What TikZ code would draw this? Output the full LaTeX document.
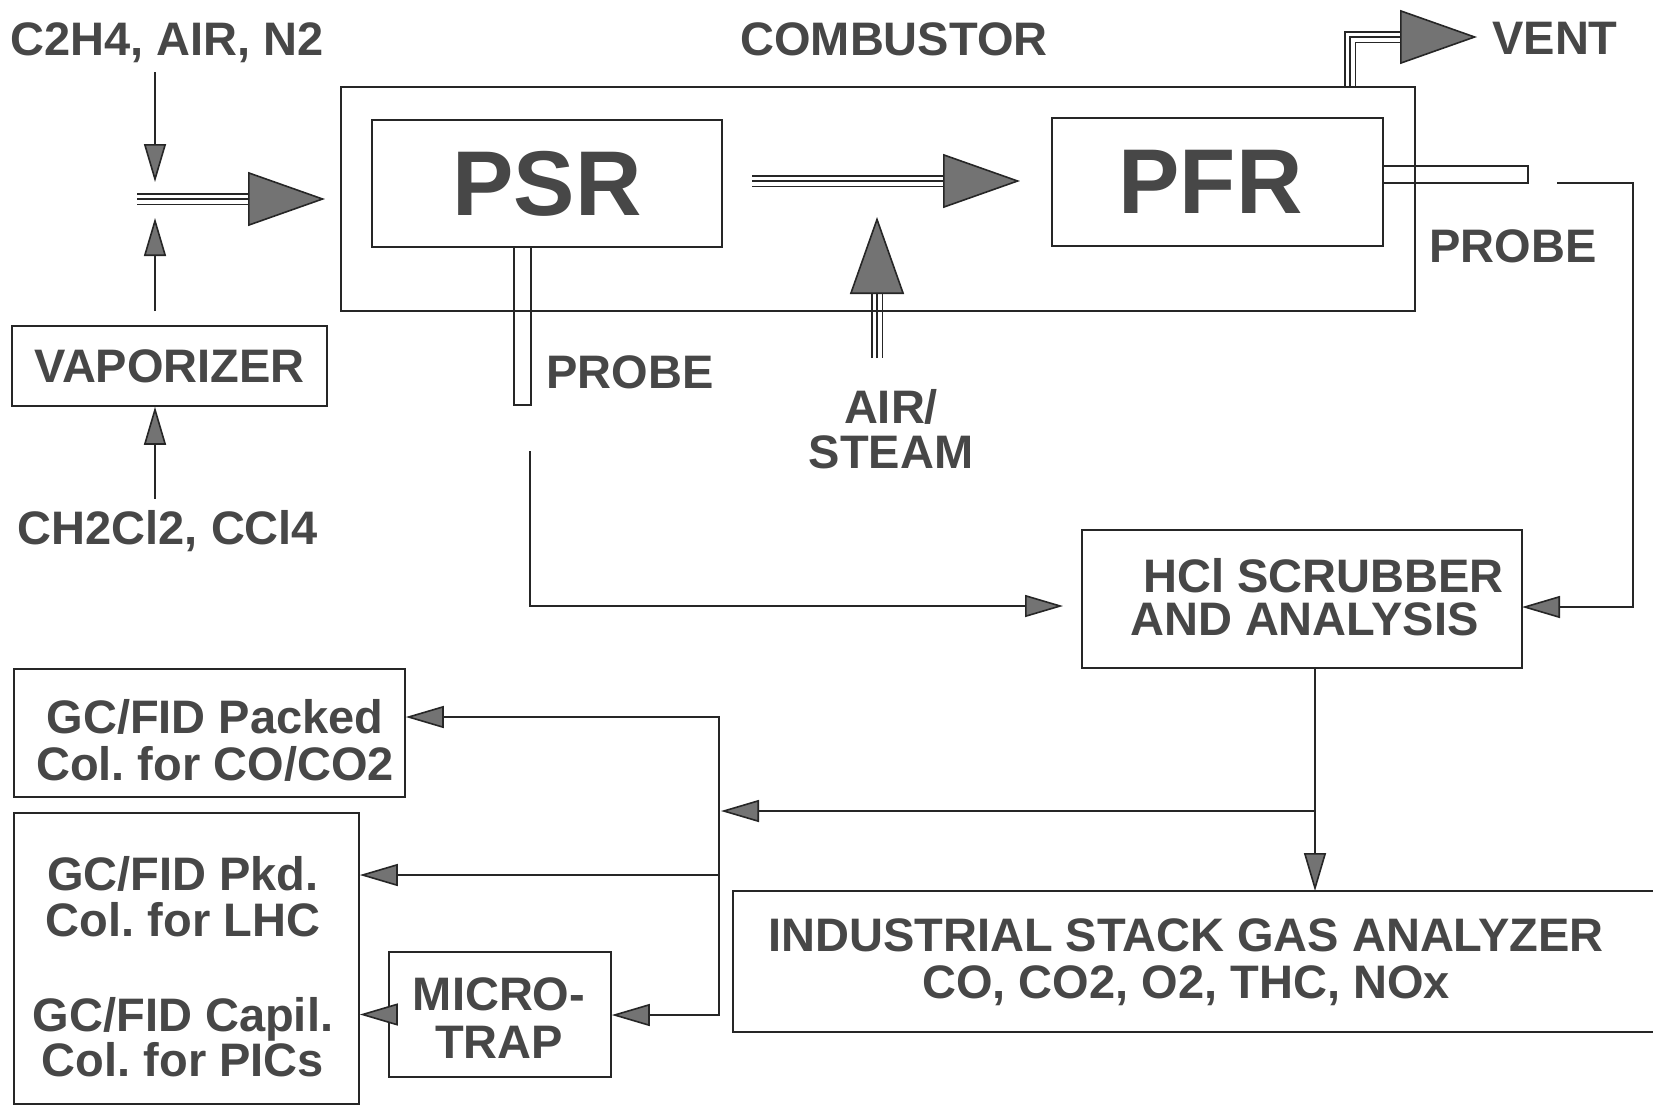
\documentclass[tikz,border=0pt]{standalone}
\usepackage{fontspec}
\setmainfont{Liberation Sans}
\usetikzlibrary{arrows.meta,calc}
\begin{document}
\frenchspacing
\begin{tikzpicture}[x=1pt,y=-1pt,
  ln/.style={line width=1.6pt, draw=black!85},
  boxs/.style={draw=black!85, line width=1.6pt, rectangle, inner sep=0pt},
  txt/.style={font=\bfseries\fontsize{47}{46}\selectfont, text=black!72, align=center, inner sep=0pt},
  bigtxt/.style={font=\bfseries\fontsize{92}{92}\selectfont, text=black!72, inner sep=0pt},
  sarr/.style={ln, -{Triangle[length=38pt,width=22pt,fill=black!55]}},
  barr/.style={ln, -{Triangle[length=77pt,width=54pt,fill=black!55]}},
  triple/.style={line width=1.3pt, draw=black!85, double=white, double distance=9pt, shorten >=70pt},
]
\fill[white] (0,0) rectangle (1653,1106);
\useasboundingbox (0,0) rectangle (1653,1106);

% ---- coordinates
\coordinate (mixtop) at (155,72);
\coordinate (mixin) at (155,182);
\coordinate (mixup) at (155,218);
\coordinate (mixL) at (137,199);
\coordinate (mixR) at (325,199);
\coordinate (ppL) at (752,181);
\coordinate (ppR) at (1020,181);
\coordinate (asB) at (877,358);
\coordinate (asT) at (877,217);
\coordinate (ventB) at (1350,87);
\coordinate (ventT) at (1477,37);
\coordinate (tubeR1) at (1528,166);
\coordinate (tubeR2) at (1528,183);
\coordinate (rp1) at (1557,183);
\coordinate (rp2) at (1633,183);
\coordinate (hclE) at (1522,607);
\coordinate (pt1) at (514,405);
\coordinate (pt2) at (531,405);
\coordinate (lp1) at (530,451);
\coordinate (hclW) at (1063,606);
\coordinate (indtop) at (1315,891);
\coordinate (br) at (1315,811);
\coordinate (brL) at (721,811);
\coordinate (vT) at (719,717);
\coordinate (vM) at (719,875);
\coordinate (vB) at (719,1015);
\coordinate (indNW) at (733,891);
\coordinate (indSW) at (733,1032);
\coordinate (indNE) at (1670,891);
\coordinate (indSE) at (1670,1032);

% ---- triple lines first
\draw[triple] (mixL) -- (mixR);
\draw[triple] (ppL) -- (ppR);
\draw[triple] (asB) -- (asT);
\draw[triple] (ventB) |- (ventT);

% ---- boxes
\node[boxs, minimum width=1074pt, minimum height=224pt] (comb) at (878,199) {};
\node[boxs, bigtxt, minimum width=350pt, minimum height=127pt] (psr) at (547,183.5) {PSR};
\node[boxs, bigtxt, minimum width=331pt, minimum height=128pt] (pfr) at (1217.5,182) {PFR\hspace*{14pt}};
\node[boxs, txt, minimum width=315pt, minimum height=80pt] (vap) at (169.5,366) {VAPORIZER};
\node[boxs, minimum width=440pt, minimum height=138pt] (hcl) at (1302,599) {};
\node[boxs, minimum width=391pt, minimum height=128pt] (packed) at (209.5,733) {};
\node[boxs, minimum width=345pt, minimum height=291pt] (lhc) at (186.5,958.5) {};
\node[boxs, minimum width=222pt, minimum height=125pt] (trap) at (500,1014.5) {};
\draw[ln] (indNE) -- (indNW) -- (indSW) -- (indSE);

% ---- texts
\node[txt, anchor=base] (c2h4) at (167,55) {C2H4, AIR, N2};
\node[txt, anchor=base] (combt) at (894,55) {COMBUSTOR};
\node[txt, anchor=base] (ventt) at (1555,54) {VENT};
\node[txt, anchor=base] (probeR) at (1513,262) {PROBE};
\node[txt, anchor=base] (probeL) at (630,388) {PROBE};
\node[txt, anchor=base] (ch2) at (168,544) {CH2Cl2, CCl4};
\node[txt, anchor=north, font=\bfseries\fontsize{47}{45}\selectfont] (airt) at (891,389) {AIR/\\STEAM};
\node[txt, anchor=north west, align=left, font=\bfseries\fontsize{47}{43}\selectfont] (hclt) at (1130,558) {\hspace*{13pt}HCl SCRUBBER\\AND ANALYSIS};
\node[txt, anchor=north, font=\bfseries\fontsize{47}{47}\selectfont] (packt) at (215,699) {GC/FID Packed\\Col. for CO/CO2};
\node[txt, anchor=north] (lhct) at (183,856) {GC/FID Pkd.\\Col. for LHC};
\node[txt, anchor=north, font=\bfseries\fontsize{47}{45}\selectfont] (pict) at (183,997) {GC/FID Capil.\\Col. for PICs};
\node[txt, anchor=north, font=\bfseries\fontsize{47}{48}\selectfont] (trapt) at (499,977) {MICRO-\\TRAP};
\node[txt, anchor=north, font=\bfseries\fontsize{47}{47}\selectfont] (indt) at (1186,918) {INDUSTRIAL STACK GAS ANALYZER\\CO, CO2, O2, THC, NOx};

% ---- probes
\draw[ln] (tubeR1 -| pfr.east) -- (tubeR1) -- (tubeR2) -- (tubeR2 -| pfr.east);
\draw[ln] (pt1 |- psr.south) -- (pt1) -- (pt2) -- (pt2 |- psr.south);

% ---- arrows
\draw[sarr] (mixtop) -- (mixin);
\draw[sarr] ($(vap.north -| mixup)+(0,-14)$) -- (mixup);
\draw[sarr] ($(vap.south -| mixup)+(0,92)$) -- (vap.south -| mixup);
\draw[barr] (mixL) -- (mixR);
\draw[barr] (ppL) -- (ppR);
\draw[barr] (asB) -- (asT);
\draw[barr] (ventB) |- (ventT);
\draw[sarr] (rp1) -- (rp2) |- (hclE);
\draw[sarr] (lp1) |- (hclW);
\draw[sarr] (hcl.south -| indtop) -- (indtop);
\draw[sarr] (br) -- (brL);
\draw[ln, line cap=rect] (vT) -- (vB);
\draw[sarr] (vT) -- (vT -| packed.east);
\draw[sarr] (vM) -- (vM -| lhc.east);
\draw[sarr] (vB) -- (vB -| trap.east);
\draw[sarr] (trap.west) -- (trap.west -| lhc.east);
\end{tikzpicture}
\end{document}
